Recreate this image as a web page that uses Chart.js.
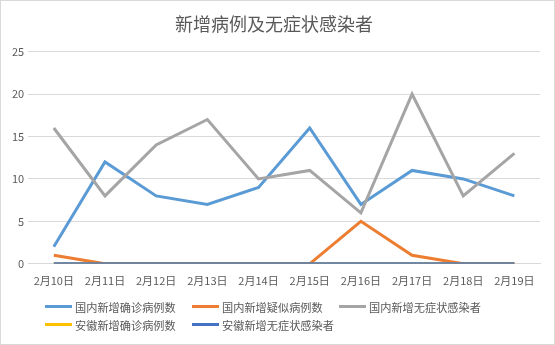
<!DOCTYPE html>
<html>
<head>
<meta charset="utf-8">
<script src="https://cdn.jsdelivr.net/npm/chart.js@4/dist/chart.umd.min.js"></script>
<style>
  body { margin: 0; background: #fff; }
  #wrap { position: relative; width: 553px; height: 343px; border: 1px solid #d9d9d9; background: #fff; }
  #chart { position: absolute; left: 0; top: 0; }
  #legend { position: absolute; left: 44px; top: 298px; display: grid; grid-template-columns: 147px 147px 147px; row-gap: 3px;
            font-family: "Noto Sans CJK SC", sans-serif; font-size: 11.2px; color: #595959; }
  .item { display: flex; align-items: center; height: 15px; white-space: nowrap; }
  .sw { width: 27px; height: 3px; margin-right: 3px; }
</style>
</head>
<body>
<div id="wrap">
  <canvas id="chart" width="553" height="343"></canvas>
  <div id="legend"></div>
</div>
<script>
( () => {

  let categories = ['2月10日', '2月11日', '2月12日', '2月13日', '2月14日', '2月15日', '2月16日', '2月17日', '2月18日', '2月19日'];
  let seriesNames = ['国内新增确诊病例数', '国内新增疑似病例数', '国内新增无症状感染者', '安徽新增确诊病例数', '安徽新增无症状感染者'];
  let confirmedCN = [2, 12, 8, 7, 9, 16, 7, 11, 10, 8];
  let suspectedCN = [1, 0, 0, 0, 0, 0, 5, 1, 0, 0];
  let asymptomaticCN = [16, 8, 14, 17, 10, 11, 6, 20, 8, 13];
  let confirmedAH = [0, 0, 0, 0, 0, 0, 0, 0, 0, 0];
  let asymptomaticAH = [0, 0, 0, 0, 0, 0, 0, 0, 0, 0];
  let yTicks = [0, 5, 10, 15, 20, 25];

  let seriesData = [confirmedCN, suspectedCN, asymptomaticCN, confirmedAH, asymptomaticAH];
  let colors = ['#5b9bd5', '#ed7d31', '#a5a5a5', '#ffc000', '#4472c4'];
  let font = '"Noto Sans CJK SC", sans-serif';

  let datasets = seriesData.map((d, i) => ({
    label: seriesNames[i],
    data: d,
    borderColor: colors[i],
    backgroundColor: colors[i],
    borderWidth: 3,
    pointRadius: 0,
    fill: false,
    tension: 0,
    // later series drawn on top, like Excel
    order: seriesData.length - i,
    clip: {left: false, top: false, right: false, bottom: 0}
  }));

  const ctx = document.getElementById('chart').getContext('2d');

  new Chart(ctx, {
    type: 'line',
    data: { labels: categories, datasets: datasets },
    options: {
      responsive: false,
      animation: false,
      layout: { padding: { left: 7, right: 14, top: 0, bottom: 47 } },
      plugins: {
        legend: { display: false },
        tooltip: { enabled: false },
        title: {
          display: true,
          text: '新增病例及无症状感染者',
          color: '#595959',
          font: { family: font, size: 18, weight: 'normal' },
          padding: { top: 12, bottom: 17 }
        }
      },
      scales: {
        x: {
          offset: true,
          grid: { display: false, drawTicks: false },
          border: { display: true, color: '#d9d9d9', width: 1 },
          ticks: { color: '#595959', font: { family: font, size: 11 }, padding: 10, maxRotation: 0, autoSkip: false }
        },
        y: {
          min: 0,
          max: 25,
          afterBuildTicks: (axis) => { axis.ticks = yTicks.map(v => ({ value: v })); },
          grid: { color: '#d9d9d9', drawTicks: false },
          border: { display: false },
          ticks: { color: '#595959', font: { family: font, size: 11 }, padding: 4 }
        }
      }
    }
  });

  let legend = document.getElementById('legend');
  seriesNames.forEach((name, i) => {
    let item = document.createElement('div');
    item.className = 'item';
    item.innerHTML = '<span class="sw" style="background:' + colors[i] + '"></span><span>' + name + '</span>';
    legend.appendChild(item);
  });

})();
</script>
</body>
</html>
